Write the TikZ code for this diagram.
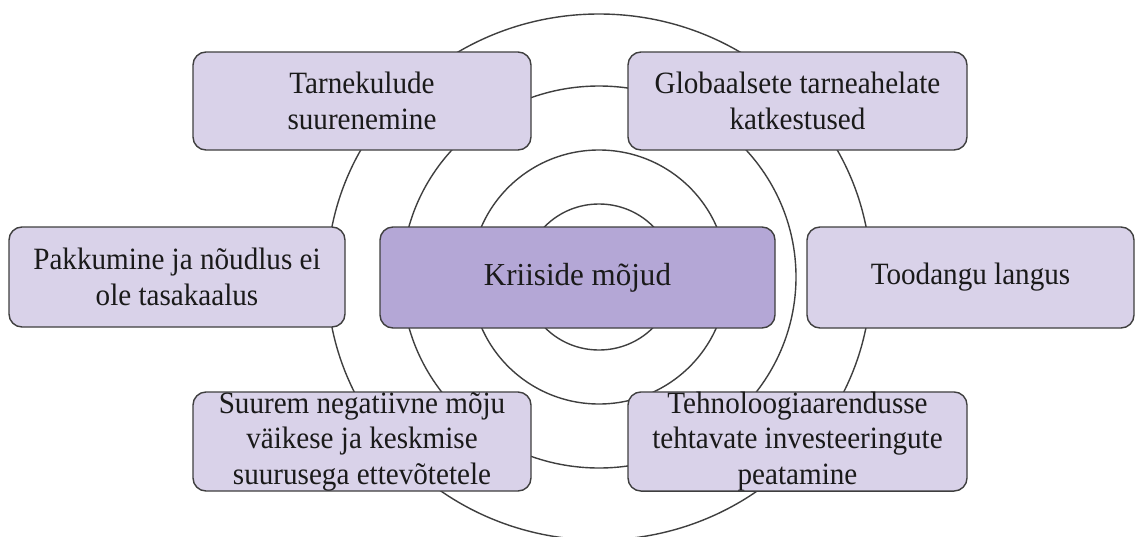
\documentclass[tikz,border=0pt]{standalone}
\usepackage{fontspec}
\setmainfont{Liberation Serif}
\newfontfamily\cardfont{Liberation Serif}[FakeStretch=0.94]
\newfontfamily\corefont{Liberation Serif}[FakeStretch=0.97]
\definecolor{boxlight}{HTML}{D9D2E9}
\definecolor{boxmid}{HTML}{B4A7D6}
\definecolor{edge}{HTML}{3F3F3F}
\definecolor{ink}{HTML}{1A1A1A}
\begin{document}
\begin{tikzpicture}[x=1pt,y=-1pt,
  ring/.style={draw=edge,line width=1.4pt},
  card/.style={draw=edge,line width=1.4pt,fill=boxlight,rounded corners=13pt,
    inner sep=0pt,align=center,text=ink,font=\cardfont\fontsize{31}{35.5}\selectfont},
  core/.style={card,fill=boxmid,font=\corefont\fontsize{32}{37}\selectfont}]
\useasboundingbox (0,0) rectangle (1135,536);
\clip (0,0) rectangle (1135,536);
\fill[white] (0,0) rectangle (1135,536);
\coordinate (c) at (599,277);
\draw[ring] (c) ellipse [x radius=272pt, y radius=263pt];
\draw[ring] (c) ellipse [x radius=197pt, y radius=191pt];
\draw[ring] (c) ellipse [x radius=128pt, y radius=127pt];
\draw[ring] (c) ellipse [x radius=75pt, y radius=73pt];
\node[card,minimum width=338pt,minimum height=98pt] (tarne) at (362,101) {Tarnekulude\\suurenemine};
\node[card,minimum width=339pt,minimum height=98pt] (glob) at (797.5,101) {Globaalsete tarneahelate\\katkestused};
\node[card,minimum width=336pt,minimum height=100pt] (pakk) at (177,277) {Pakkumine ja nõudlus ei\\ole tasakaalus};
\node[core,minimum width=395pt,minimum height=101pt] (kriis) at (577.5,277.5) {Kriiside mõjud};
\node[card,minimum width=327pt,minimum height=101pt] (tood) at (970.5,277.5) {Toodangu langus};
\node[card,minimum width=338pt,minimum height=99pt] (suur) at (362,441.5) {Suurem negatiivne mõju\\väikese ja keskmise\\suurusega ettevõtetele};
\node[card,minimum width=339pt,minimum height=99pt] (tehn) at (797.5,441.5) {Tehnoloogiaarendusse\\tehtavate investeeringute\\peatamine};
\end{tikzpicture}
\end{document}
